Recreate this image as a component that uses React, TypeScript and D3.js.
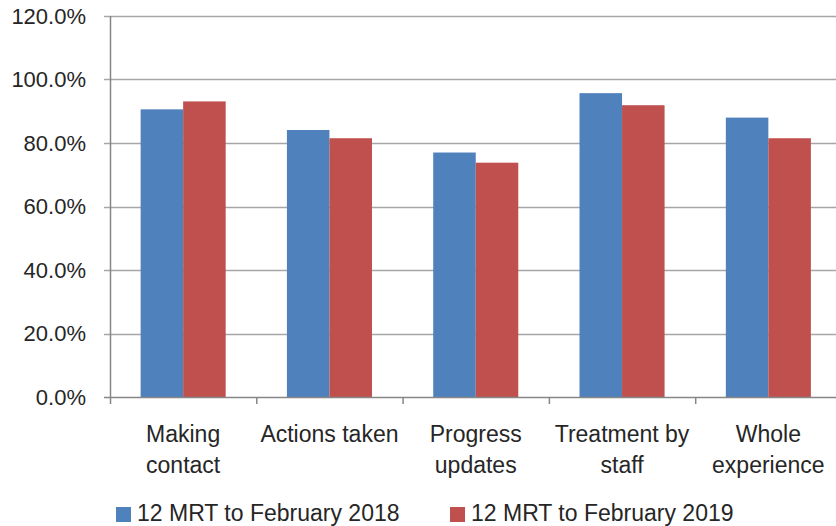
import { useEffect, useRef } from 'react';
import * as d3 from 'd3';

const categories = ['Making contact', 'Actions taken', 'Progress updates', 'Treatment by staff', 'Whole experience'];
// how the category labels wrap under the axis
const categoryLines = [['Making', 'contact'], ['Actions taken'], ['Progress', 'updates'], ['Treatment by', 'staff'], ['Whole', 'experience']];
const seriesNames = ['12 MRT to February 2018', '12 MRT to February 2019'];
const feb2018 = [0.906, 0.841, 0.770, 0.957, 0.880];
const feb2019 = [0.931, 0.815, 0.738, 0.919, 0.815];
const yTicks = [0, 0.2, 0.4, 0.6, 0.8, 1.0, 1.2];
const colors = ['#4F81BD', '#C0504D'];

const App = () => {
  const svgRef = useRef<SVGSVGElement>(null);

  useEffect(() => {
    const W = 836;
    const H = 526;
    const left = 110;
    const right = 841.5;
    const top = 16;
    const bottom = 397;
    const font = '"Liberation Sans", Arial, sans-serif';
    const textColor = '#262626';

    const svg = d3.select(svgRef.current);
    svg.selectAll('*').remove();
    svg.attr('width', W).attr('height', H).attr('viewBox', `0 0 ${W} ${H}`);

    const y = d3.scaleLinear().domain([0, 1.2]).range([bottom, top]);
    const x0 = d3.scaleBand<string>().domain(categories).range([left, right]).padding(0);
    const x1 = d3.scaleBand<string>().domain(seriesNames).range([0, x0.bandwidth()])
      .paddingInner(0).paddingOuter(0.72);

    // gridlines
    svg.append('g')
      .selectAll('line')
      .data(yTicks.filter(d => d > 0))
      .enter().append('line')
      .attr('x1', left - 6)
      .attr('x2', W)
      .attr('y1', d => Math.round(y(d)) + 0.5)
      .attr('y2', d => Math.round(y(d)) + 0.5)
      .attr('stroke', '#A6A6A6')
      .attr('stroke-width', 1.5);

    // y axis labels
    svg.append('g')
      .selectAll('text')
      .data(yTicks)
      .enter().append('text')
      .attr('x', 86)
      .attr('y', d => y(d))
      .attr('dy', '0.36em')
      .attr('text-anchor', 'end')
      .style('font-family', font)
      .style('font-size', '22px')
      .style('fill', textColor)
      .text(d => d3.format('.1%')(d));

    // bars
    const series = [feb2018, feb2019];
    series.forEach((vals, si) => {
      svg.append('g')
        .selectAll('rect')
        .data(vals)
        .enter().append('rect')
        .attr('x', (d, i) => (x0(categories[i]) ?? 0) + (x1(seriesNames[si]) ?? 0))
        .attr('width', x1.bandwidth())
        .attr('y', d => y(d))
        .attr('height', d => y(0) - y(d))
        .attr('fill', colors[si]);
    });

    // axes lines
    svg.append('line')
      .attr('x1', left + 0.5).attr('x2', left + 0.5)
      .attr('y1', top).attr('y2', bottom + 1)
      .attr('stroke', '#868686').attr('stroke-width', 1.5);
    svg.append('line')
      .attr('x1', left - 6).attr('x2', W)
      .attr('y1', bottom + 0.5).attr('y2', bottom + 0.5)
      .attr('stroke', '#868686').attr('stroke-width', 1.5);

    // category ticks
    svg.append('g')
      .selectAll('line')
      .data(categories)
      .enter().append('line')
      .attr('x1', d => (x0(d) ?? 0) + 0.5)
      .attr('x2', d => (x0(d) ?? 0) + 0.5)
      .attr('y1', bottom)
      .attr('y2', bottom + 7)
      .attr('stroke', '#868686')
      .attr('stroke-width', 1.5);

    // category labels
    const lab = svg.append('g')
      .selectAll('text')
      .data(categories)
      .enter().append('text')
      .attr('text-anchor', 'middle')
      .style('font-family', font)
      .style('font-size', '23px')
      .style('fill', textColor);
    lab.each(function (d, i) {
      const cx = (x0(d) ?? 0) + x0.bandwidth() / 2;
      categoryLines[i].forEach((line, li) => {
        d3.select(this).append('tspan')
          .attr('x', cx)
          .attr('y', 442 + li * 31)
          .text(line);
      });
    });

    // legend
    const legendX = [116, 450];
    seriesNames.forEach((name, si) => {
      const g = svg.append('g').attr('transform', `translate(${legendX[si]},0)`);
      g.append('rect')
        .attr('x', 0).attr('y', 507)
        .attr('width', 15).attr('height', 15)
        .attr('fill', colors[si]);
      g.append('text')
        .attr('x', 21).attr('y', 521)
        .style('font-family', font)
        .style('font-size', '23px')
        .style('fill', textColor)
        .text(name);
    });
  }, []);

  return (
    <div style={{ position: 'absolute', left: 0, top: 0, width: 836, height: 526, background: '#fff' }}>
      <svg ref={svgRef} style={{ display: 'block' }}></svg>
    </div>
  );
};

export default App;
